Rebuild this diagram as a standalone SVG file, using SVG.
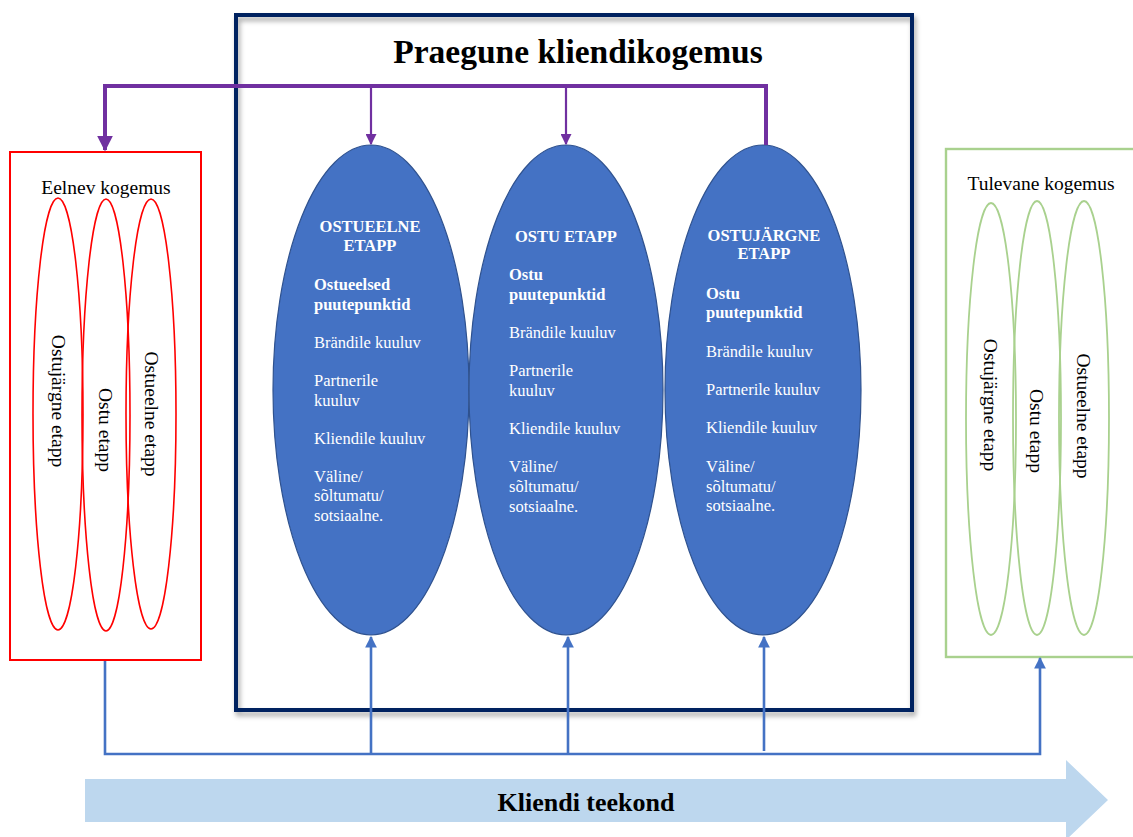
<svg xmlns="http://www.w3.org/2000/svg" width="1133" height="837" viewBox="0 0 1133 837">
  <defs>
    <style>
      .serif { font-family: "Liberation Serif", "Times New Roman", serif; }
      .stage { fill: #4472C4; stroke: #2F528F; stroke-width: 1.2; }
      .past { fill: none; stroke: #FF0000; stroke-width: 1.6; }
      .future { fill: none; stroke: #A9D18E; stroke-width: 1.8; }
      .wt { fill: #FFFFFF; font-size: 16.5px; }
      .wb { fill: #FFFFFF; font-size: 16.5px; font-weight: bold; }
      .side { fill: #000000; font-size: 19.5px; }
      .rot { fill: #000000; font-size: 19.5px; text-anchor: middle; }
      .purple { fill: none; stroke: #7030A0; }
      .blue { fill: none; stroke: #4472C4; stroke-width: 2.6; }
    </style>
    <marker id="arrPurple" viewBox="0 0 10 10" refX="9" refY="5" markerWidth="4" markerHeight="4" orient="auto" markerUnits="strokeWidth">
      <path d="M0,0 L10,5 L0,10 z" fill="#7030A0"/>
    </marker>
    <marker id="arrPurpleSm" viewBox="0 0 10 10" refX="9" refY="5" markerWidth="5" markerHeight="5" orient="auto" markerUnits="strokeWidth">
      <path d="M0,0 L10,5 L0,10 z" fill="#7030A0"/>
    </marker>
    <marker id="arrBlue" viewBox="0 0 10 10" refX="9" refY="5" markerWidth="4.5" markerHeight="4.5" orient="auto" markerUnits="strokeWidth">
      <path d="M0,0 L10,5 L0,10 z" fill="#4472C4"/>
    </marker>
    <filter id="shadow" x="-5%" y="-5%" width="112%" height="112%">
      <feGaussianBlur in="SourceAlpha" stdDeviation="2.5"/>
      <feOffset dx="2" dy="4" result="b"/>
      <feFlood flood-color="#000000" flood-opacity="0.35"/>
      <feComposite in2="b" operator="in"/>
      <feMerge><feMergeNode/><feMergeNode in="SourceGraphic"/></feMerge>
    </filter>
  </defs>

  <rect width="1133" height="837" fill="#FFFFFF"/>

  <!-- journey arrow along the bottom -->
  <g id="journey">
    <path d="M85,779 L1066,779 L1066,760 L1108,800 L1066,840 L1066,822 L85,822 z" fill="#BDD7EE"/>
    <text class="serif" x="586" y="811" font-size="26" font-weight="bold" text-anchor="middle" fill="#000000">Kliendi teekond</text>
  </g>

  <!-- current experience frame -->
  <g id="current">
    <rect x="236" y="15" width="676" height="695" fill="none" stroke="#002060" stroke-width="4" filter="url(#shadow)"/>
    <text class="serif" x="578" y="63" font-size="33.5" font-weight="bold" text-anchor="middle" fill="#000000">Praegune kliendikogemus</text>
  </g>

  <!-- previous experience -->
  <g id="previous">
    <rect x="10" y="152" width="191" height="508" fill="none" stroke="#FF0000" stroke-width="2"/>
    <text class="serif side" x="106" y="194" text-anchor="middle">Eelnev kogemus</text>
    <ellipse class="past" cx="58" cy="414" rx="25" ry="216"/>
    <ellipse class="past" cx="106" cy="415" rx="24" ry="216"/>
    <ellipse class="past" cx="151" cy="414" rx="25" ry="215"/>
    <text class="serif rot" transform="translate(52,401) rotate(90)">Ostujärgne etapp</text>
    <text class="serif rot" transform="translate(99,430) rotate(90)">Ostu etapp</text>
    <text class="serif rot" transform="translate(145,414) rotate(90)">Ostueelne etapp</text>
  </g>

  <!-- future experience -->
  <g id="future">
    <rect x="946" y="149" width="200" height="508" fill="none" stroke="#A9D18E" stroke-width="2.4"/>
    <text class="serif side" x="1041" y="190" text-anchor="middle">Tulevane kogemus</text>
    <ellipse class="future" cx="991" cy="419" rx="25" ry="216"/>
    <ellipse class="future" cx="1037" cy="418" rx="24" ry="217"/>
    <ellipse class="future" cx="1084" cy="418" rx="25" ry="217"/>
    <text class="serif rot" transform="translate(984,405) rotate(90)">Ostujärgne etapp</text>
    <text class="serif rot" transform="translate(1030,431) rotate(90)">Ostu etapp</text>
    <text class="serif rot" transform="translate(1077,416) rotate(90)">Ostueelne etapp</text>
  </g>

  <!-- pre-purchase stage -->
  <g id="stage-pre">
    <ellipse class="stage" cx="371" cy="390" rx="98" ry="245"/>
    <g class="serif">
      <text class="wb" x="370" y="232" text-anchor="middle">OSTUEELNE</text>
      <text class="wb" x="370" y="251" text-anchor="middle">ETAPP</text>
      <text class="wb" x="314" y="290">Ostueelsed</text>
      <text class="wb" x="314" y="310">puutepunktid</text>
      <text class="wt" x="314" y="348">Brändile kuuluv</text>
      <text class="wt" x="314" y="386">Partnerile</text>
      <text class="wt" x="314" y="406">kuuluv</text>
      <text class="wt" x="314" y="444">Kliendile kuuluv</text>
      <text class="wt" x="314" y="482">Väline/</text>
      <text class="wt" x="314" y="501">sõltumatu/</text>
      <text class="wt" x="314" y="521">sotsiaalne.</text>
    </g>
  </g>

  <!-- purchase stage -->
  <g id="stage-buy">
    <ellipse class="stage" cx="566" cy="390" rx="97" ry="245"/>
    <g class="serif">
      <text class="wb" x="566" y="242" text-anchor="middle">OSTU ETAPP</text>
      <text class="wb" x="509" y="280">Ostu</text>
      <text class="wb" x="509" y="300">puutepunktid</text>
      <text class="wt" x="509" y="338">Brändile kuuluv</text>
      <text class="wt" x="509" y="376">Partnerile</text>
      <text class="wt" x="509" y="396">kuuluv</text>
      <text class="wt" x="509" y="434">Kliendile kuuluv</text>
      <text class="wt" x="509" y="472">Väline/</text>
      <text class="wt" x="509" y="492">sõltumatu/</text>
      <text class="wt" x="509" y="512">sotsiaalne.</text>
    </g>
  </g>

  <!-- post-purchase stage -->
  <g id="stage-post">
    <ellipse class="stage" cx="763" cy="390" rx="98" ry="245"/>
    <g class="serif">
      <text class="wb" x="764" y="241" text-anchor="middle">OSTUJÄRGNE</text>
      <text class="wb" x="764" y="259" text-anchor="middle">ETAPP</text>
      <text class="wb" x="706" y="299">Ostu</text>
      <text class="wb" x="706" y="318">puutepunktid</text>
      <text class="wt" x="706" y="357">Brändile kuuluv</text>
      <text class="wt" x="706" y="395">Partnerile kuuluv</text>
      <text class="wt" x="706" y="433">Kliendile kuuluv</text>
      <text class="wt" x="706" y="472">Väline/</text>
      <text class="wt" x="706" y="492">sõltumatu/</text>
      <text class="wt" x="706" y="511">sotsiaalne.</text>
    </g>
  </g>

  <!-- connectors -->
  <g id="connectors">
    <!-- feedback from the post-purchase stage -->
    <path class="purple" d="M766,145 L766,86 L105,86 L105,150" stroke-width="4" marker-end="url(#arrPurple)"/>
    <path class="purple" d="M371,86 L371,144" stroke-width="2.2" marker-end="url(#arrPurpleSm)"/>
    <path class="purple" d="M566,86 L566,144" stroke-width="2.2" marker-end="url(#arrPurpleSm)"/>
    <!-- journey line underneath -->
    <path class="blue" d="M105,661 L105,754 L1040,754 L1040,658" marker-end="url(#arrBlue)"/>
    <path class="blue" d="M371,754 L371,637" marker-end="url(#arrBlue)"/>
    <path class="blue" d="M568,754 L568,637" marker-end="url(#arrBlue)"/>
    <path class="blue" d="M764,751 L764,637" marker-end="url(#arrBlue)"/>
  </g>
</svg>
